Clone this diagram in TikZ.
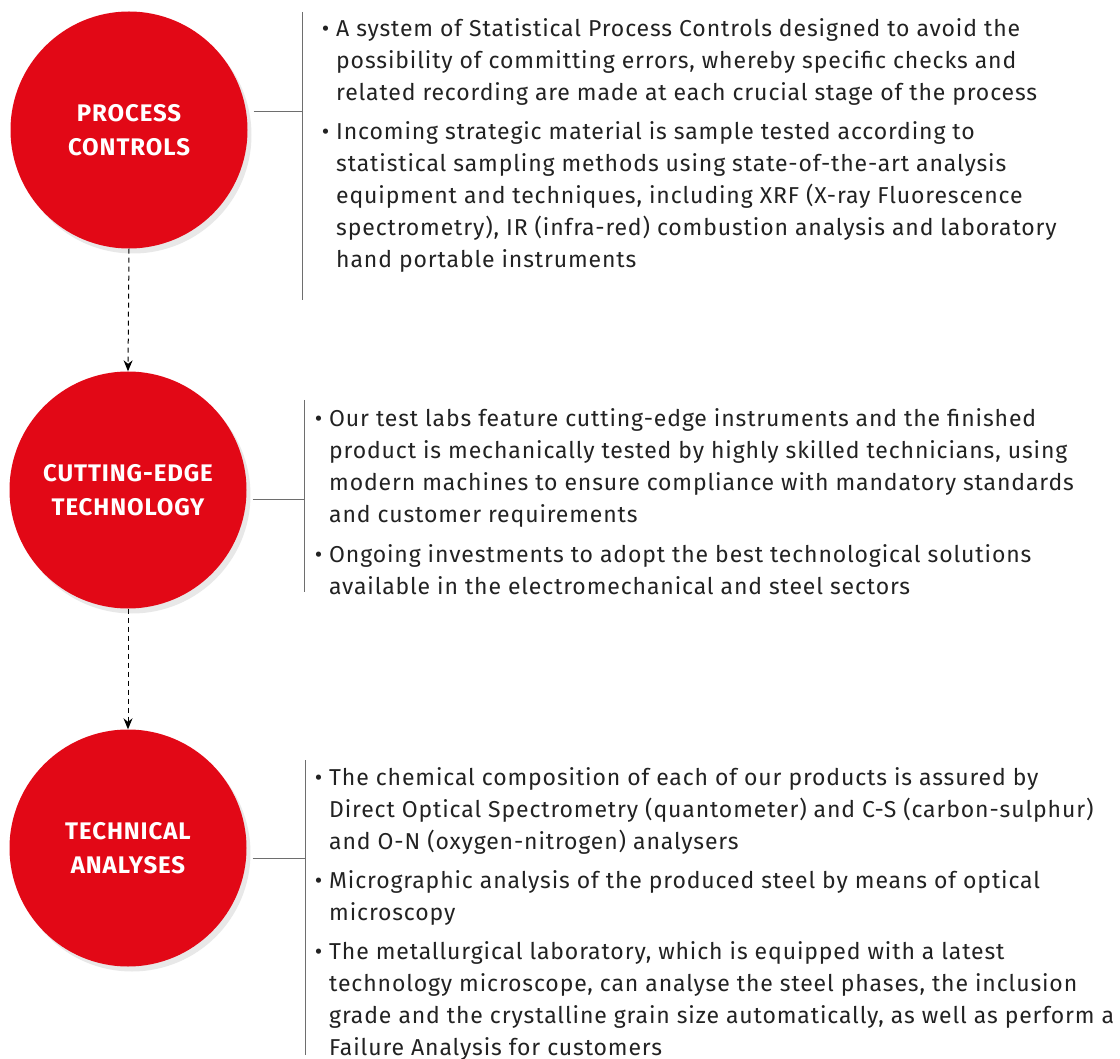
\documentclass[tikz,border=0pt]{standalone}
\usepackage{fontspec}
\setmainfont{Fira Sans}[LetterSpace=3.8]
\usetikzlibrary{arrows.meta,shadows}
\definecolor{stepred}  {RGB}{226,8,22}
\definecolor{bodytext} {RGB}{34,34,34}
\definecolor{rulegray} {RGB}{110,110,110}

\newcommand{\bul}{\llap{\textbullet\hspace{7pt}}}

\begin{document}
\begin{tikzpicture}[x=1pt, y=-1pt,
    stepcircle/.style={circle, fill=stepred, minimum size=237pt, inner sep=0pt,
        text=white, align=center, font=\fontsize{24}{34}\selectfont\bfseries,
        drop shadow={opacity=0.18, shadow xshift=4pt, shadow yshift=-5pt}},
    itembox/.style={anchor=north west, align=left, inner sep=0pt,
        text=bodytext, font=\fontsize{23}{32}\selectfont},
    rule/.style={draw=rulegray, line width=1pt},
    flowarrow/.style={draw=black, line width=1pt, dash pattern=on 5pt off 4pt,
        -{Stealth[length=11pt, width=9pt]}}]

\useasboundingbox (0,0) rectangle (1120,1059);

% Circles
\node[stepcircle] (pc) at (129,130) {PROCESS\\CONTROLS};
\node[stepcircle] (ct) at (128,490) {CUTTING-EDGE\\TECHNOLOGY};
\node[stepcircle] (ta) at (128,848) {TECHNICAL\\ANALYSES};

% Flow between the circles
\draw[flowarrow] (pc.south) -- (ct.north);
\draw[flowarrow] (ct.south) -- (ta.north);

% ================================================================
% PROCESS CONTROLS
% ================================================================
\coordinate (r1top) at (302,12);
\coordinate (r1bot) at (302,300);
\coordinate (r1mid) at (302,112);
\draw[rule] (r1top) -- (r1bot);
\draw[rule] ([xshift=6pt]pc.east |- r1mid) -- (r1mid);

\node[itembox] (pc1) at (336,18) {\bul A system of Statistical Process Controls designed to avoid the\\
    possibility of committing errors, whereby specific checks and\\
    related recording are made at each crucial stage of the process};
\node[itembox] (pc2) at (336,121) {\bul Incoming strategic material is sample tested according to\\
    statistical sampling methods using state-of-the-art analysis\\
    equipment and techniques, including XRF (X-ray Fluorescence\\
    spectrometry), IR (infra-red) combustion analysis and laboratory\\
    hand portable instruments};

% ================================================================
% CUTTING-EDGE TECHNOLOGY
% ================================================================
\coordinate (r2top) at (304,400);
\coordinate (r2bot) at (304,592);
\coordinate (r2mid) at (304,499);
\draw[rule] (r2top) -- (r2bot);
\draw[rule] ([xshift=6pt]ct.east |- r2mid) -- (r2mid);

\node[itembox] (ct1) at (329,408) {\bul Our test labs feature cutting-edge instruments and the finished\\
    product is mechanically tested by highly skilled technicians, using\\
    modern machines to ensure compliance with mandatory standards\\
    and customer requirements};
\node[itembox] (ct2) at (329,544) {\bul Ongoing investments to adopt the best technological solutions\\
    available in the electromechanical and steel sectors};

% ================================================================
% TECHNICAL ANALYSES
% ================================================================
\coordinate (r3top) at (305,760);
\coordinate (r3bot) at (305,1055);
\coordinate (r3mid) at (305,858);
\draw[rule] (r3top) -- (r3bot);
\draw[rule] ([xshift=6pt]ta.east |- r3mid) -- (r3mid);

\node[itembox] (ta1) at (329,767) {\bul The chemical composition of each of our products is assured by\\
    Direct Optical Spectrometry (quantometer) and C-S (carbon-sulphur)\\
    and O-N (oxygen-nitrogen) analysers};
\node[itembox] (ta2) at (329,870) {\bul Micrographic analysis of the produced steel by means of optical\\
    microscopy};
\node[itembox] (ta3) at (329,941) {\bul The metallurgical laboratory, which is equipped with a latest\\
    technology microscope, can analyse the steel phases, the inclusion\\
    grade and the crystalline grain size automatically, as well as perform a\\
    Failure Analysis for customers};

\end{tikzpicture}
\end{document}
